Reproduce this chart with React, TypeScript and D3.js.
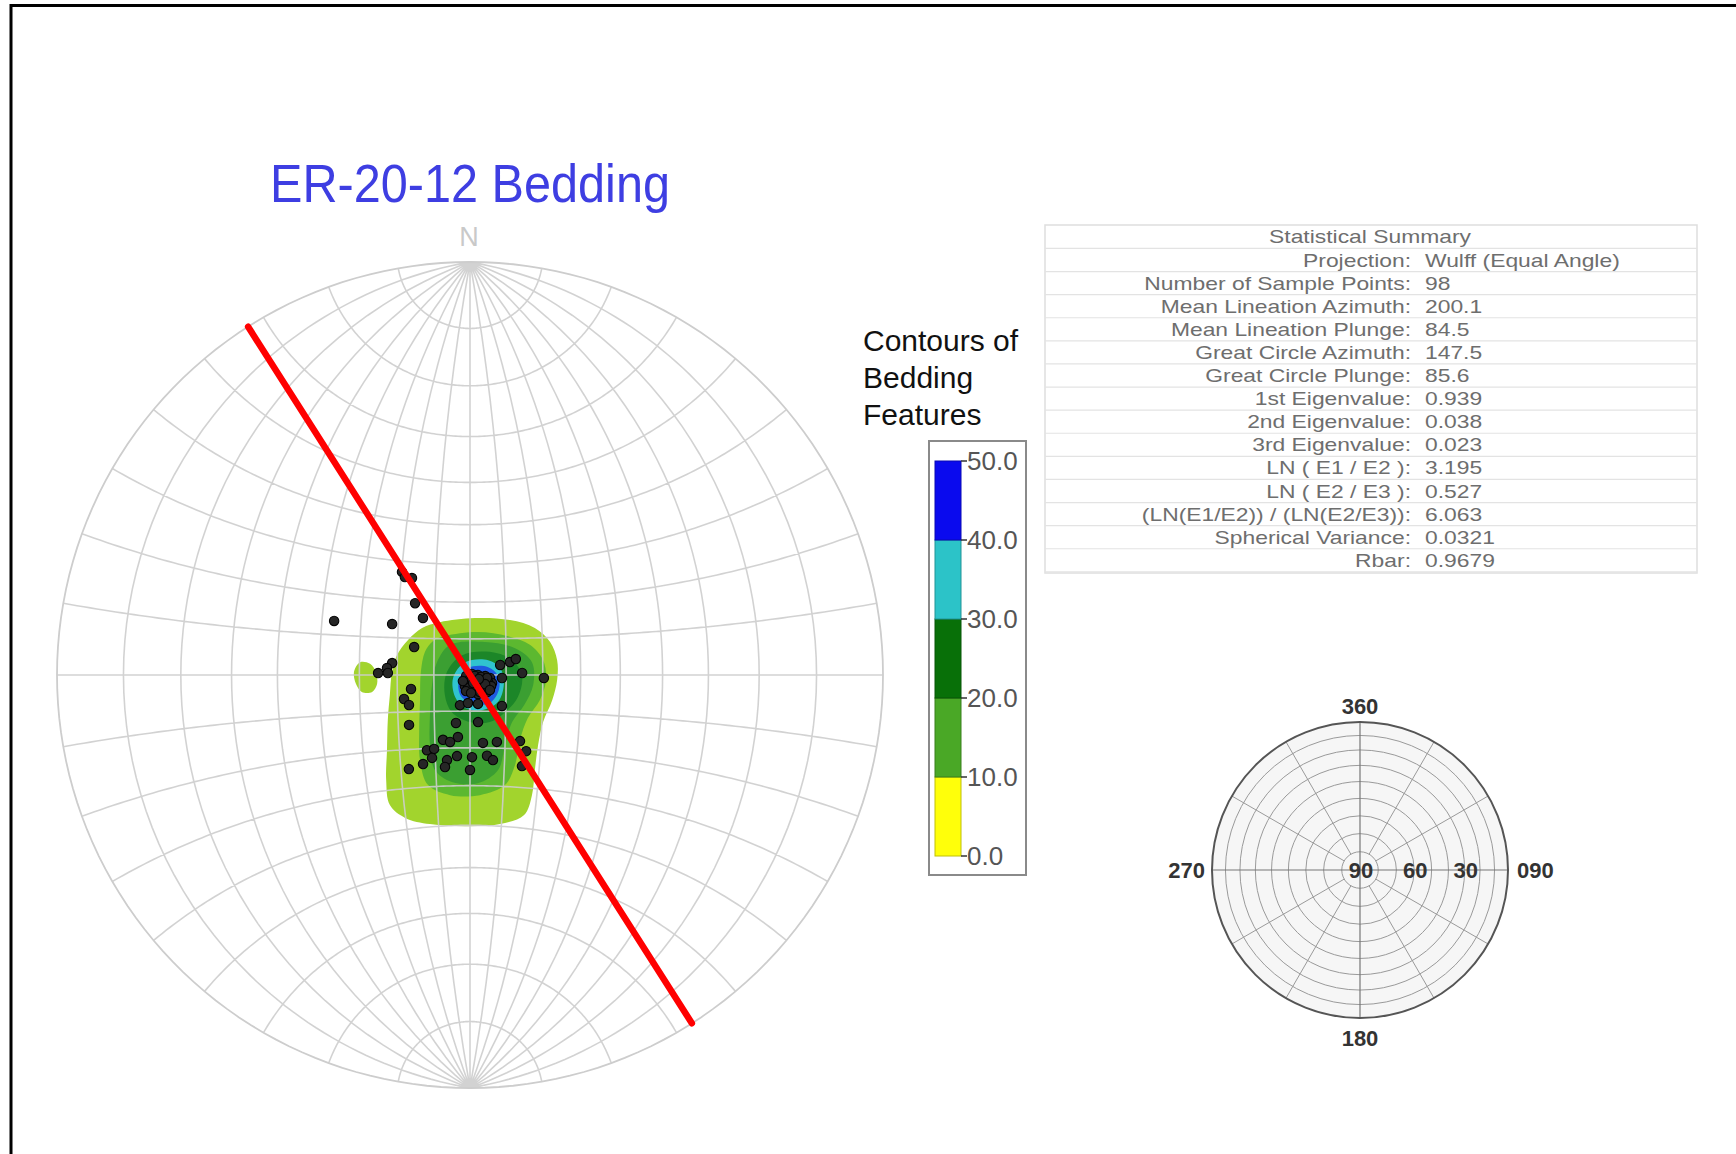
import React from 'react';
import * as d3 from 'd3';

const W = 1736;
const H = 1154;

// ---------- DATA ----------
const titleText = 'ER-20-12 Bedding';

// Poles to bedding, lower hemisphere [trend, plunge] (deg)
const bedPoles: [number, number][] = [
  [326.6, 56.7], [326.4, 58.2], [329.1, 59.4], [322.6, 65.3], [320.5, 69.7], [291.7, 51.0],
  [303.2, 64.6], [296.6, 72.8], [278.7, 68.4], [274.8, 67.2], [271.2, 64.9], [271.4, 67.5],
  [256.7, 73.3], [250.0, 70.7], [243.8, 71.3], [230.7, 68.4],
  [71.6, 81.2], [72.0, 78.4], [70.8, 76.6], [87.8, 75.6], [92.3, 69.7], [95.4, 81.1],
  [198.4, 81.2], [184.1, 82.2], [164.6, 81.7], [134.1, 77.7], [196.3, 76.2], [170.3, 76.8],
  [191.0, 72.6], [202.6, 70.7], [196.6, 70.8], [169.2, 71.0], [158.1, 70.2], [142.9, 67.3],
  [143.6, 64.2], [209.8, 66.3], [205.9, 67.5], [204.6, 65.1], [195.1, 65.9], [189.1, 67.5],
  [178.6, 67.5], [168.1, 67.4], [164.9, 65.9], [195.2, 64.0], [207.8, 62.6], [213.0, 59.6],
  [180.0, 64.1], [150.3, 61.5],
  [256, 88.9], [63, 89.4], [90, 87.8], [94, 85.8], [98.5, 84.4], [198, 88.2], [141, 88.2],
  [116.6, 86.9], [110.6, 85.3], [110, 83.5], [204.4, 86.6], [174, 87.2], [147.5, 86.4],
  [130.2, 85.3], [124.4, 83.6], [183.8, 85.8], [162.6, 85.3], [143.7, 84.8], [135, 83.3],
  [157.2, 84.3], [180, 88.9], [126.9, 85.8], [143.1, 87.2], [162.9, 86.2], [106, 86.0],
  [119, 84.3], [200.6, 87.6], [145.3, 85.6], [123.7, 89.0], [131.2, 84.1],
  [180, 88.1], [123.7, 88.0], [116.6, 86.3], [111.3, 84.6], [170.5, 86.6], [138.4, 86.7],
  [137, 84.3], [117.6, 83.4], [188.7, 86.3], [101.3, 88.6], [100.3, 86.9], [100, 85.2],
  [229.4, 87.4], [194, 85.4], [149.5, 84.5], [121, 85.1], [159.4, 87.6], [114, 87.3],
  [126.9, 83.1], [176.8, 85.0],
];

// Best-fit great circle (vertical trace) strike
const girdleStrike = 147.5;

// Contour bands, net units (primitive radius = 1, x east, y north)
const contourLime: [number, number][] = [
  [-0.073, 0.128], [0.012, 0.138], [0.097, 0.133], [0.157, 0.114], [0.194, 0.08], [0.211, 0.036],
  [0.211, -0.012], [0.199, -0.061], [0.177, -0.114], [0.165, -0.169], [0.157, -0.23], [0.15, -0.291],
  [0.131, -0.339], [0.073, -0.361], [-0.012, -0.366], [-0.097, -0.361], [-0.157, -0.346], [-0.194, -0.315],
  [-0.203, -0.254], [-0.201, -0.182], [-0.199, -0.109], [-0.194, -0.048], [-0.189, 0.007], [-0.177, 0.048],
  [-0.15, 0.085], [-0.116, 0.114],
];
const contourLimeIsland: [number, number][] = [
  [-0.266, 0.031], [-0.242, 0.027], [-0.228, 0.007], [-0.225, -0.022], [-0.237, -0.041],
  [-0.262, -0.041], [-0.276, -0.022], [-0.281, 0.007],
];
const contourGreen1: [number, number][] = [
  [-0.061, 0.094], [0.019, 0.104], [0.092, 0.094], [0.145, 0.073], [0.177, 0.036], [0.184, -0.012],
  [0.169, -0.061], [0.14, -0.104], [0.121, -0.157], [0.109, -0.218], [0.085, -0.266], [0.024, -0.291],
  [-0.048, -0.291], [-0.102, -0.266], [-0.121, -0.206], [-0.123, -0.133], [-0.121, -0.061], [-0.119, 0.007],
  [-0.109, 0.056], [-0.09, 0.082],
];
const contourGreen2: [number, number][] = [
  [-0.048, 0.073], [0.036, 0.08], [0.109, 0.065], [0.15, 0.031], [0.153, -0.024], [0.131, -0.073],
  [0.102, -0.114], [0.085, -0.169], [0.068, -0.23], [0.019, -0.262], [-0.044, -0.259], [-0.085, -0.23],
  [-0.097, -0.169], [-0.097, -0.097], [-0.092, -0.024], [-0.08, 0.031],
];
const contourGreen3: [number, number][] = [
  [-0.019, 0.048], [0.048, 0.056], [0.102, 0.036], [0.126, -0.002], [0.116, -0.053], [0.085, -0.09],
  [0.048, -0.114], [0.0, -0.114], [-0.044, -0.09], [-0.061, -0.048], [-0.056, 0.007],
];
const contourCyan: [number, number][] = [
  [-0.012, 0.031], [0.044, 0.036], [0.073, 0.017], [0.082, -0.022], [0.068, -0.065], [0.031, -0.085],
  [-0.012, -0.08], [-0.036, -0.053], [-0.041, -0.007],
];
const contourBlue: [number, number][] = [
  [-0.005, 0.017], [0.044, 0.019], [0.068, -0.002], [0.07, -0.036], [0.048, -0.068], [0.01, -0.07],
  [-0.022, -0.051], [-0.027, -0.012],
];
const contourBands = [contourLime, contourLimeIsland, contourGreen1, contourGreen2, contourGreen3, contourCyan, contourBlue];
const contourFills = ['#a2d42d', '#a2d42d', '#5cb830', '#3b9f32', '#1c8628', '#30c4cf', '#1f5ae0'];

// Legend
const legendTitle = ['Contours of', 'Bedding', 'Features'];
const legendLevels = [0, 10, 20, 30, 40, 50];
const legendColors = ['#ffff0a', '#4aa826', '#087008', '#2cc3c8', '#0a0aee'];

// Statistics table
const statTitle = 'Statistical Summary';
const statLabels = [
  'Projection:', 'Number of Sample Points:', 'Mean Lineation Azimuth:', 'Mean Lineation Plunge:',
  'Great Circle Azimuth:', 'Great Circle Plunge:', '1st Eigenvalue:', '2nd Eigenvalue:', '3rd Eigenvalue:',
  'LN ( E1 / E2 ):', 'LN ( E2 / E3 ):', '(LN(E1/E2)) / (LN(E2/E3)):', 'Spherical Variance:', 'Rbar:',
];
const statValues = [
  'Wulff (Equal Angle)', '98', '200.1', '84.5', '147.5', '85.6', '0.939', '0.038', '0.023',
  '3.195', '0.527', '6.063', '0.0321', '0.9679',
];

// Small polar net
const polarRings = [80, 70, 60, 50, 40, 30, 20, 10];
const polarSpokes = [30, 60, 120, 150, 210, 240, 300, 330];
const polarAzLabels = ['360', '090', '180', '270'];
const polarPlungeLabels = [90, 60, 30];

// ---------- LAYOUT ----------
const cx = 470, cy = 675, R = 413;
const font = '"Liberation Sans", Arial, Helvetica, sans-serif';

const rad = Math.PI / 180;
const toLonLat = (t: number, p: number): [number, number] => {
  const e = Math.cos(p * rad) * Math.sin(t * rad);
  const n = Math.cos(p * rad) * Math.cos(t * rad);
  const d = Math.sin(p * rad);
  return [Math.atan2(e, d) / rad, Math.asin(Math.max(-1, Math.min(1, n))) / rad];
};

export default function App() {
  const proj = d3.geoStereographic().scale(R).translate([cx, cy]).rotate([0, 0, 0]).clipAngle(90).precision(0.1);
  const geoPath = d3.geoPath(proj);
  const graticule = d3.geoGraticule().extent([[-180, -90], [180, 90]]).step([10, 10]).precision(1);
  const gratPath = geoPath(graticule()) || '';
  const outline = geoPath({ type: 'Sphere' } as any) || '';

  const xs = d3.scaleLinear().domain([-1, 1]).range([cx - R, cx + R]);
  const ys = d3.scaleLinear().domain([-1, 1]).range([cy + R, cy - R]);
  const blob = d3.line<[number, number]>().x(d => xs(d[0])).y(d => ys(d[1])).curve(d3.curveCatmullRomClosed.alpha(0.5));

  const girdle = {
    type: 'LineString',
    coordinates: [toLonLat((girdleStrike + 180) % 360, 0.01), toLonLat(0, 90), toLonLat(girdleStrike, 0.01)],
  };
  const girdlePath = geoPath(girdle as any) || '';

  // legend scale
  const ly = d3.scaleLinear().domain([0, 50]).range([856, 461]);

  // stats
  const rowY = d3.scaleLinear().domain([0, 1]).range([260, 283.1]);

  // polar
  const pcx = 1360, pcy = 870, pR = 148;
  const rEA = (p: number) => pR * Math.SQRT2 * Math.sin(((90 - p) / 2) * rad);

  return (
    <svg width={W} height={H} style={{ position: 'absolute', left: 0, top: 0, background: '#fff', display: 'block' }} fontFamily={font}>
      <rect x={0} y={0} width={W} height={H} fill="#fff" />
      <path d={`M11,${H} V5.5 H${W}`} fill="none" stroke="#000" strokeWidth={3} />

      {/* Title */}
      <text x={270} y={202} fontSize={53} fill="#3e3ee2" textLength={400} lengthAdjust="spacingAndGlyphs">{titleText}</text>
      <text x={469} y={246} fontSize={27} fill="#c9c9c9" textAnchor="middle">N</text>

      {/* Contours */}
      <g>
        {contourBands.map((b, i) => (
          <path key={i} d={blob(b) || ''} fill={contourFills[i]} stroke="none" />
        ))}
      </g>

      {/* Wulff net */}
      <path d={gratPath} fill="none" stroke="#cdcdcd" strokeWidth={1.6} strokeOpacity={0.9} />
      <path d={outline} fill="none" stroke="#cdcdcd" strokeWidth={1.8} />

      {/* Poles */}
      <g>
        {bedPoles.map((d, i) => {
          const p = proj(toLonLat(d[0], d[1]));
          if (!p) return null;
          return <circle key={i} cx={p[0]} cy={p[1]} r={4.7} fill="#262626" stroke="#050505" strokeWidth={1.1} />;
        })}
      </g>

      {/* Great circle */}
      <path d={girdlePath} fill="none" stroke="#ff0000" strokeWidth={6.5} strokeLinecap="round" />

      {/* Legend */}
      {legendTitle.map((t, i) => (
        <text key={t} x={863} y={351 + i * 37} fontSize={30} fill="#111">{t}</text>
      ))}
      <rect x={929} y={441} width={97} height={434} fill="#fff" stroke="#8a8a8a" strokeWidth={2} />
      {legendColors.map((c, i) => (
        <rect key={i} x={935} y={ly(legendLevels[i + 1])} width={26}
          height={ly(legendLevels[i]) - ly(legendLevels[i + 1])} fill={c} stroke={d3.color(c)!.darker(0.8).toString()} strokeWidth={1} />
      ))}
      {legendLevels.map(v => (
        <g key={v}>
          <line x1={961} x2={967} y1={ly(v)} y2={ly(v)} stroke="#333" strokeWidth={1.5} />
          <text x={967} y={ly(v)} dy="0.36em" fontSize={26} fill="#555">{v.toFixed(1)}</text>
        </g>
      ))}

      {/* Stats table */}
      <rect x={1045} y={225} width={652} height={348} fill="#fff" stroke="#dedede" strokeWidth={1.5} />
      {d3.range(statLabels.length + 1).map(i => (
        <line key={i} x1={1045} x2={1697} y1={rowY(i) - 11.55} y2={rowY(i) - 11.55} stroke="#e3e3e3" strokeWidth={1.2} />
      ))}
      <g transform={`translate(1370,${rowY(-1) + 6.5}) scale(1.27,1)`}>
        <text textAnchor="middle" fontSize={18} fill="#6e6e6e">{statTitle}</text>
      </g>
      {statLabels.map((l, i) => (
        <g key={l}>
          <g transform={`translate(1411,${rowY(i) + 6.5}) scale(1.27,1)`}>
            <text textAnchor="end" fontSize={18} fill="#6e6e6e">{l}</text>
          </g>
          <g transform={`translate(1425,${rowY(i) + 6.5}) scale(1.27,1)`}>
            <text textAnchor="start" fontSize={18} fill="#6e6e6e">{statValues[i]}</text>
          </g>
        </g>
      ))}

      {/* Polar net */}
      <circle cx={pcx} cy={pcy} r={pR} fill="#f6f6f6" stroke="none" />
      {polarRings.map(p => (
        <circle key={p} cx={pcx} cy={pcy} r={rEA(p)} fill="none" stroke="#9a9a9a" strokeWidth={1} />
      ))}
      {polarSpokes.map(a => (
        <line key={a} x1={pcx + rEA(80) * Math.sin(a * rad)} y1={pcy - rEA(80) * Math.cos(a * rad)}
          x2={pcx + pR * Math.sin(a * rad)} y2={pcy - pR * Math.cos(a * rad)} stroke="#9a9a9a" strokeWidth={1} />
      ))}
      <line x1={pcx - pR} x2={pcx + pR} y1={pcy} y2={pcy} stroke="#777" strokeWidth={1.2} />
      <line x1={pcx} x2={pcx} y1={pcy - pR} y2={pcy + pR} stroke="#777" strokeWidth={1.2} />
      <circle cx={pcx} cy={pcy} r={pR} fill="none" stroke="#555" strokeWidth={2} />
      <text x={pcx} y={pcy - pR - 16} dy="0.35em" textAnchor="middle" fontSize={22} fontWeight="bold" fill="#333">{polarAzLabels[0]}</text>
      <text x={pcx + pR + 9} y={pcy} dy="0.35em" textAnchor="start" fontSize={22} fontWeight="bold" fill="#333">{polarAzLabels[1]}</text>
      <text x={pcx} y={pcy + pR + 20} dy="0.35em" textAnchor="middle" fontSize={22} fontWeight="bold" fill="#333">{polarAzLabels[2]}</text>
      <text x={pcx - pR - 7} y={pcy} dy="0.35em" textAnchor="end" fontSize={22} fontWeight="bold" fill="#333">{polarAzLabels[3]}</text>
      {polarPlungeLabels.map(p => (
        <text key={p} x={pcx + rEA(p) + 1} y={pcy} dy="0.35em" textAnchor="middle" fontSize={22} fontWeight="bold" fill="#333">{p}</text>
      ))}
    </svg>
  );
}
